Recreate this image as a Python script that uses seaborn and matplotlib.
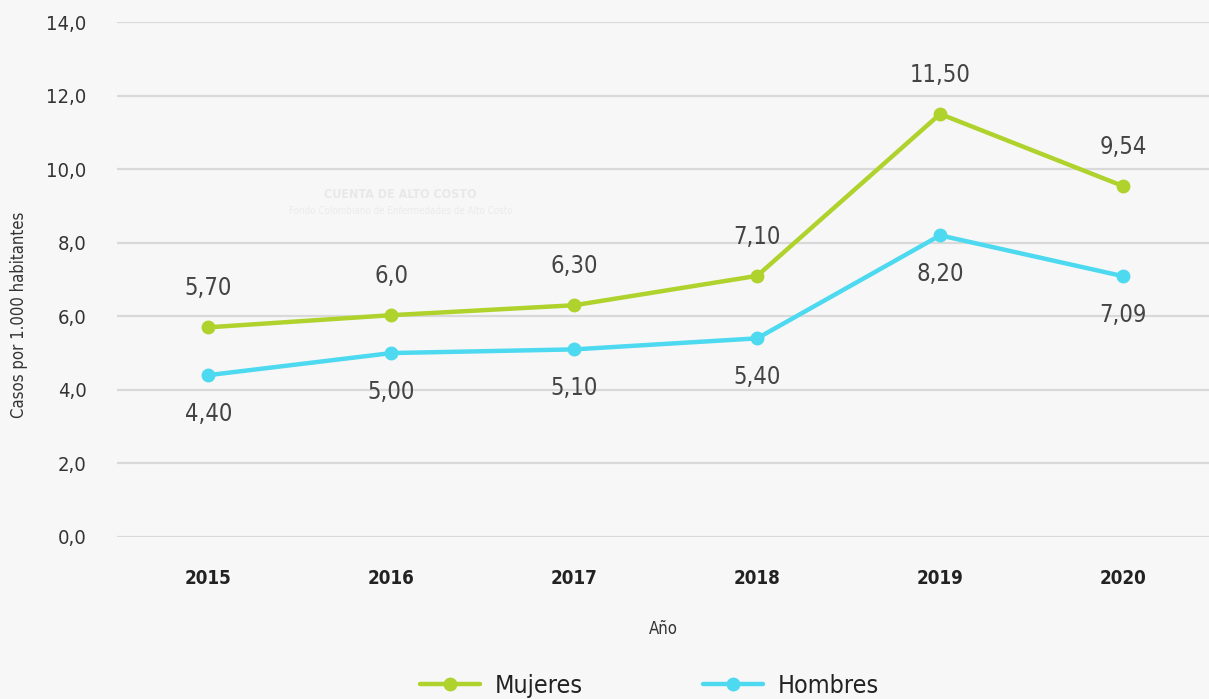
import pandas as pd
import seaborn as sns
import matplotlib.pyplot as plt
from matplotlib.ticker import FuncFormatter

# datos
anios = ["2015", "2016", "2017", "2018", "2019", "2020"]
mujeres = [5.70, 6.03, 6.30, 7.10, 11.50, 9.54]
hombres = [4.40, 5.00, 5.10, 5.40, 8.20, 7.09]
etiq_mujeres = ["5,70", "6,0", "6,30", "7,10", "11,50", "9,54"]
etiq_hombres = ["4,40", "5,00", "5,10", "5,40", "8,20", "7,09"]

df = pd.DataFrame({
    "Año": anios * 2,
    "valor": mujeres + hombres,
    "sexo": ["Mujeres"] * 6 + ["Hombres"] * 6,
})

sns.set_style("white")
plt.rcParams["font.family"] = ["DejaVu Sans"]
plt.rcParams["font.stretch"] = "condensed"

bg = "#f7f7f7"
fig = plt.figure(figsize=(12.09, 6.99), dpi=100, facecolor=bg)
ax = fig.add_axes([0.0968, 0.2318, 0.9032, 0.7367])
ax.set_facecolor(bg)

colores = {"Mujeres": "#afd22d", "Hombres": "#4dd9ef"}
sns.lineplot(data=df, x="Año", y="valor", hue="sexo", palette=colores, marker="o",
             markersize=10, markeredgewidth=0, linewidth=3.2, ax=ax, zorder=3)

ax.set_ylim(0, 14)
ax.set_xlim(-0.5, 5.47)
ax.set_yticks(range(0, 15, 2))
ax.yaxis.set_major_formatter(FuncFormatter(lambda v, p: f"{v:.1f}".replace(".", ",")))
ax.grid(axis="y", color="#d9d9d9", linewidth=1.6)
ax.grid(axis="x", visible=False)
for s in ax.spines.values():
    s.set_visible(False)
ax.tick_params(axis="y", length=0, pad=22, labelsize=14.5, labelcolor="#333333")
ax.tick_params(axis="x", length=0, pad=23, labelsize=13.5, labelcolor="#222222")
for t in ax.get_xticklabels():
    t.set_fontweight("bold")

ax.set_xlabel("Año", fontsize=12, color="#333333", labelpad=23)
ax.set_ylabel("")
fig.text(0.016, 0.55, "Casos por 1.000 habitantes", rotation=90, ha="center", va="center",
         fontsize=12, color="#333333")

# etiquetas
for i, (v, e) in enumerate(zip(mujeres, etiq_mujeres)):
    ax.annotate(e, (i, v), xytext=(0, 28), textcoords="offset points", ha="center",
                va="center", fontsize=17, color="#444444")
for i, (v, e) in enumerate(zip(hombres, etiq_hombres)):
    ax.annotate(e, (i, v), xytext=(0, -28), textcoords="offset points", ha="center",
                va="center", fontsize=17, color="#444444")

# marca de agua
ax.text(1.05, 9.3, "CUENTA DE ALTO COSTO", ha="center", va="center", fontsize=9,
        fontweight="bold", color="#e8e8e8", zorder=0)
ax.text(1.05, 8.85, "Fondo Colombiano de Enfermedades de Alto Costo", ha="center",
        va="center", fontsize=7, color="#ebebeb", zorder=0)

ax.get_legend().remove()
h, l = ax.get_legend_handles_labels()
fig.legend(h, l, loc="lower center", bbox_to_anchor=(0.537, -0.031), ncol=2, frameon=False,
           fontsize=18, handlelength=2.4, handletextpad=0.6, columnspacing=4.8,
           labelcolor="#222222")

fig.savefig("out.png", dpi=100, facecolor=bg)
